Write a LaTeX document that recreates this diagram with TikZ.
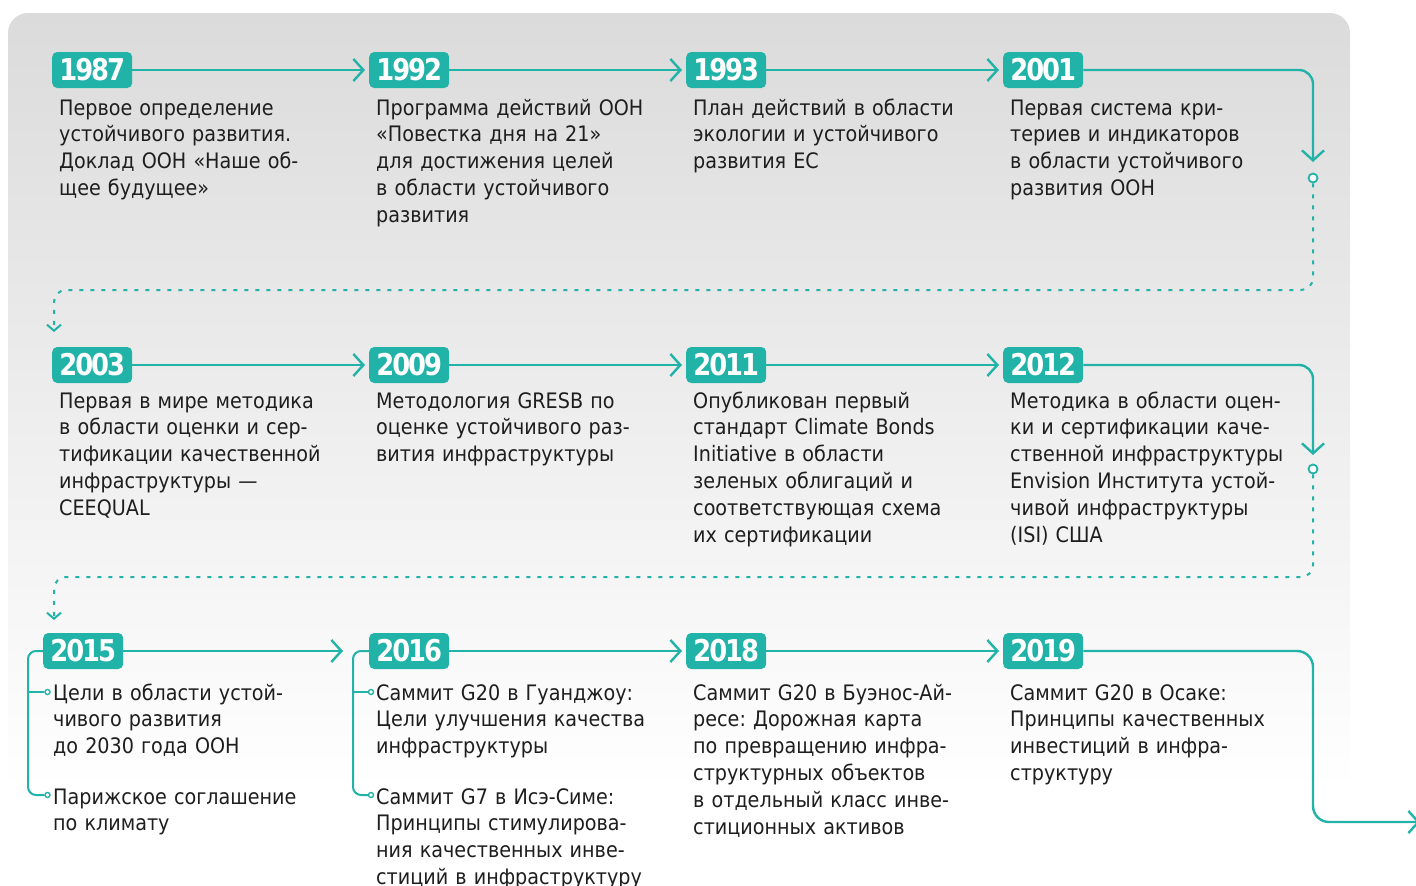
\documentclass[tikz,border=0pt]{standalone}
\usepackage{fontspec}
\setmainfont{DejaVu Sans}[FakeStretch=0.9]
\newfontfamily\yearfont{DejaVu Sans}[FakeStretch=0.86,LetterSpace=-7]
\usetikzlibrary{arrows.meta}
\definecolor{teal}{RGB}{33,178,168}
\definecolor{bgtop}{RGB}{220,219,219}
\definecolor{textc}{RGB}{30,30,30}
\frenchspacing
\tikzset{
  yr/.style={fill=teal, rounded corners=5pt, text=white, font=\yearfont\bfseries\fontsize{30}{30}\selectfont,
    minimum width=80pt, minimum height=36pt, inner sep=0pt, anchor=west},
  desc/.style={anchor=base west, text width=330pt, align=left, inner sep=0pt,
    font=\frenchspacing\fontsize{21.3}{26.8}\selectfont, text=textc},
  conn/.style={draw=teal, line width=2.4pt, -{Straight Barb[length=10pt,width=22pt]}},
  dline/.style={draw=teal, line width=2pt, dash pattern=on 4pt off 7pt, rounded corners=12pt,
    -{Straight Barb[length=6pt,width=14pt]}},
  dot/.style={circle, draw=teal, line width=1.8pt, fill=white, minimum size=9pt, inner sep=0pt},
  smalldot/.style={circle, draw=teal, line width=1.4pt, fill=white, minimum size=5pt, inner sep=0pt},
  brk/.style={draw=teal, line width=2pt, rounded corners=8pt}
}
\begin{document}
\begin{tikzpicture}[x=1pt,y=-1pt]
\useasboundingbox (0,0) rectangle (1416,886);
\shade[top color=bgtop, bottom color=white, rounded corners=20pt] (8,13) rectangle (1350,790);

% Row 1
\node[yr] (y1987) at (52,70) {1987};
\node[yr] (y1992) at (369,70) {1992};
\node[yr] (y1993) at (686,70) {1993};
\node[yr] (y2001) at (1003,70) {2001};
\node[desc] (t1987) at (59,115) {Первое определение\\устойчивого развития.\\Доклад ООН «Наше об-\\щее будущее»};
\node[desc] (t1992) at (376,115) {Программа действий ООН\\«Повестка дня на 21»\\для достижения целей\\в области устойчивого\\развития};
\node[desc] (t1993) at (693,115) {План действий в области\\экологии и устойчивого\\развития ЕС};
\node[desc] (t2001) at (1010,115) {Первая система кри-\\териев и индикаторов\\в области устойчивого\\развития ООН};
\draw[conn, shorten >=4pt] (y1987.east) -- (y1992.west);
\draw[conn, shorten >=4pt] (y1992.east) -- (y1993.west);
\draw[conn, shorten >=4pt] (y1993.east) -- (y2001.west);
\coordinate (a1) at (1313,162);
\draw[conn, rounded corners=14pt] (y2001.east) -| (a1);
\node[dot] (d1) at (1313,178) {};
\coordinate (b1) at (54,290);
\coordinate (e1) at (54,332);
\draw[dline] (d1.south) |- (b1) -- (e1);

% Row 2
\node[yr] (y2003) at (52,365) {2003};
\node[yr] (y2009) at (369,365) {2009};
\node[yr] (y2011) at (686,365) {2011};
\node[yr] (y2012) at (1003,365) {2012};
\node[desc] (t2003) at (59,408) {Первая в мире методика\\в области оценки и сер-\\тификации качественной\\инфраструктуры —\\CEEQUAL};
\node[desc] (t2009) at (376,408) {Методология GRESB по\\оценке устойчивого раз-\\вития инфраструктуры};
\node[desc] (t2011) at (693,408) {Опубликован первый\\стандарт Climate Bonds\\Initiative в области\\зеленых облигаций и\\соответствующая схема\\их сертификации};
\node[desc] (t2012) at (1010,408) {Методика в области оцен-\\ки и сертификации каче-\\ственной инфраструктуры\\Envision Института устой-\\чивой инфраструктуры\\(ISI) США};
\draw[conn, shorten >=4pt] (y2003.east) -- (y2009.west);
\draw[conn, shorten >=4pt] (y2009.east) -- (y2011.west);
\draw[conn, shorten >=4pt] (y2011.east) -- (y2012.west);
\coordinate (a2) at (1313,455);
\draw[conn, rounded corners=14pt] (y2012.east) -| (a2);
\node[dot] (d2) at (1313,469) {};
\coordinate (b2) at (54,577);
\coordinate (e2) at (54,620);
\draw[dline] (d2.south) |- (b2) -- (e2);

% Row 3
\node[yr] (y2015) at (43,651) {2015};
\node[yr] (y2016) at (369,651) {2016};
\node[yr] (y2018) at (686,651) {2018};
\node[yr] (y2019) at (1003,651) {2019};
\node[desc] (t2015a) at (53,700) {Цели в области устой-\\чивого развития\\до 2030 года ООН};
\node[desc] (t2015b) at (53,804) {Парижское соглашение\\по климату};
\node[desc] (t2016a) at (376,700) {Саммит G20 в Гуанджоу:\\Цели улучшения качества\\инфраструктуры};
\node[desc] (t2016b) at (376,804) {Саммит G7 в Исэ-Симе:\\Принципы стимулирова-\\ния качественных инве-\\стиций в инфраструктуру};
\node[desc] (t2018) at (693,700) {Саммит G20 в Буэнос-Ай-\\ресе: Дорожная карта\\по превращению инфра-\\структурных объектов\\в отдельный класс инве-\\стиционных активов};
\node[desc] (t2019) at (1010,700) {Саммит G20 в Осаке:\\Принципы качественных\\инвестиций в инфра-\\структуру};

% brackets
\node[smalldot] (s15a) at (47.5,692) {};
\node[smalldot] (s15b) at (47.5,795) {};
\node[smalldot] (s16a) at (371,692) {};
\node[smalldot] (s16b) at (371,795) {};
\draw[brk] (y2015.west) -- (28,651) |- (s15b.west);
\draw[brk] (28,692) -- (s15a.west);
\draw[brk] (y2016.west) -- (353,651) |- (s16b.west);
\draw[brk] (353,692) -- (s16a.west);

\coordinate (a15) at (343,651);
\draw[conn] (y2015.east) -- (a15);
\draw[conn, shorten >=4pt] (y2016.east) -- (y2018.west);
\draw[conn, shorten >=4pt] (y2018.east) -- (y2019.west);
\coordinate (k3) at (1313,822);
\coordinate (e3) at (1420,822);
\draw[conn, rounded corners=16pt] (y2019.east) -| (k3) -- (e3);
\end{tikzpicture}
\end{document}
